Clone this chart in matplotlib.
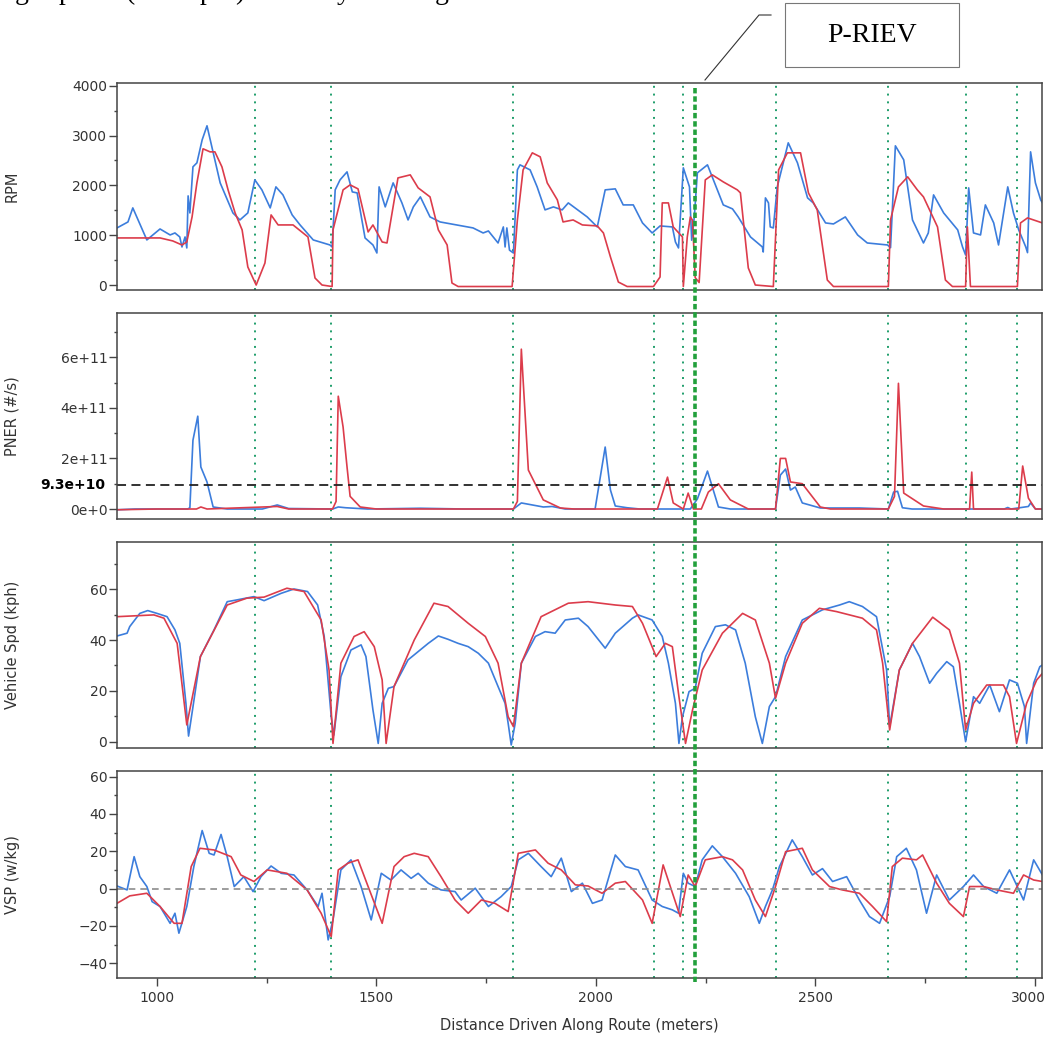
import numpy as np
import matplotlib
matplotlib.use("Agg")
import matplotlib.pyplot as plt
from matplotlib.ticker import MultipleLocator, FuncFormatter
from matplotlib.lines import Line2D
from matplotlib.patches import Rectangle
from matplotlib.transforms import ScaledTranslation

plt.rcParams['font.family'] = ['DejaVu Sans']

BLUE = '#3c7ddc'
RED = '#dc3c4b'
GREEN = '#1f9e6b'

# ---------------- data (distance in meters) ----------------
rpm_blue_x = [909, 934, 945, 977, 1007, 1030, 1041, 1052, 1057, 1064, 1068, 1071, 1075, 1082, 1091, 1103,
              1114, 1144, 1173, 1189, 1207, 1223, 1239, 1258, 1271, 1287, 1308, 1326, 1356, 1394, 1399, 1406,
              1417, 1433, 1445, 1456, 1474, 1492, 1501, 1506, 1520, 1538, 1558, 1572, 1584, 1600, 1622, 1645,
              1720, 1743, 1755, 1777, 1789, 1793, 1797, 1803, 1812, 1821, 1827, 1850, 1866, 1884, 1903, 1923,
              1937, 1980, 2003, 2021, 2044, 2062, 2085, 2106, 2128, 2146, 2174, 2181, 2188, 2199, 2213, 2218,
              2224, 2231, 2254, 2272, 2290, 2311, 2324, 2352, 2379, 2381, 2386, 2393, 2397, 2404, 2413, 2438,
              2459, 2482, 2495, 2523, 2541, 2568, 2596, 2618, 2664, 2671, 2682, 2701, 2721, 2746, 2757, 2769,
              2792, 2824, 2835, 2842, 2849, 2860, 2876, 2887, 2906, 2917, 2938, 2951, 2963, 2979, 2983, 2990,
              3001, 3013, 3017]
rpm_blue_y = [1146, 1266, 1548, 905, 1125, 1005, 1045, 965, 764, 965, 744, 1789, 1447, 2372, 2452, 2914,
              3196, 2050, 1447, 1306, 1447, 2110, 1910, 1548, 1970, 1809, 1407, 1206, 905, 804, 764, 1910,
              2110, 2271, 1869, 1849, 945, 804, 643, 1970, 1568, 2050, 1648, 1306, 1568, 1769, 1367, 1266,
              1146, 1045, 1085, 844, 1166, 764, 1146, 700, 643, 2311, 2412, 2311, 1970, 1508, 1568, 1508,
              1648, 1367, 1166, 1910, 1930, 1608, 1608, 1246, 1045, 1186, 1166, 864, 744, 2352, 1970, 900,
              1367, 2251, 2412, 2010, 1608, 1528, 1367, 965, 764, 663, 1749, 1648, 1166, 1146, 1970, 2854,
              2452, 1749, 1648, 1246, 1226, 1367, 1005, 844, 804, 750, 2794, 2513, 1306, 844, 1045, 1809,
              1447, 1106, 764, 603, 1950, 1045, 1005, 1608, 1246, 804, 1970, 1447, 1106, 764, 650, 2673,
              2050, 1709, 1650]

rpm_red_x = [909, 977, 1007, 1036, 1057, 1068, 1080, 1091, 1105, 1121, 1132, 1148, 1162, 1178, 1194, 1207,
             1226, 1246, 1260, 1276, 1310, 1344, 1360, 1376, 1399, 1401, 1424, 1440, 1458, 1481, 1492, 1513,
             1524, 1549, 1577, 1595, 1622, 1641, 1661, 1672, 1686, 1809, 1821, 1834, 1855, 1873, 1889, 1912,
             1925, 1948, 1969, 2003, 2017, 2033, 2051, 2071, 2131, 2146, 2151, 2165, 2176, 2197, 2199, 2208,
             2215, 2220, 2226, 2235, 2249, 2265, 2290, 2322, 2329, 2347, 2363, 2404, 2416, 2436, 2466, 2484,
             2504, 2527, 2541, 2666, 2671, 2689, 2710, 2732, 2746, 2778, 2796, 2812, 2842, 2846, 2853, 2960,
             2967, 2983, 3017]
rpm_red_y = [945, 945, 945, 885, 804, 864, 1367, 2050, 2734, 2673, 2673, 2372, 1910, 1447, 1106, 362,
             0, 442, 1407, 1206, 1206, 965, 141, 0, -30, 1106, 1910, 2010, 1930, 1065, 1206, 864,
             844, 2150, 2211, 1950, 1769, 1106, 804, 40, -30, -30, 1306, 2311, 2653, 2573, 2050, 1709,
             1266, 1306, 1206, 1186, 1045, 563, 60, -30, -30, 161, 1648, 1648, 1166, 965, -30, 965,
             1367, 1300, 150, 50, 2110, 2211, 2070, 1910, 1850, 342, 0, -30, 2311, 2653, 2653, 1849,
             1508, 100, -30, -30, 1306, 1970, 2171, 1910, 1769, 1166, 100, -30, -30, 1166, -30, -30,
             1246, 1347, 1246]

# particle number emission rate, in units of 1e11 #/s
pner_blue_x = [909, 950, 1070, 1075, 1082, 1093, 1100, 1114, 1128, 1160, 1240, 1274, 1300, 1400, 1413, 1430,
               1480, 1600, 1700, 1812, 1830, 1880, 1900, 1930, 1998, 2021, 2033, 2044, 2071, 2100, 2215, 2231,
               2254, 2279, 2306, 2409, 2420, 2432, 2443, 2454, 2470, 2511, 2600, 2666, 2678, 2687, 2698, 2720,
               2930, 2938, 2945, 2985, 2990, 3001, 3017]
pner_blue_y = [-0.03, 0, 0, 0.05, 2.72, 3.67, 1.66, 1.07, 0.08, 0.0, 0, 0.16, 0.02, 0, 0.08, 0.05,
               0, 0.03, 0, 0, 0.24, 0.08, 0.1, 0, 0, 2.45, 0.75, 0.12, 0.05, 0, 0, 0.4,
               1.5, 0.08, 0, 0, 1.34, 1.58, 0.75, 0.87, 0.24, 0.04, 0.04, 0, 0.67, 0.7, 0.05, 0,
               0, 0.06, 0, 0.1, 0.24, 0, 0]
pner_red_x = [909, 1000, 1090, 1100, 1114, 1274, 1300, 1400, 1408, 1413, 1424, 1433, 1440, 1463, 1500, 1812,
              1821, 1830, 1846, 1880, 1919, 1950, 2140, 2163, 2176, 2199, 2210, 2222, 2240, 2256, 2279, 2306,
              2347, 2409, 2420, 2432, 2443, 2470, 2511, 2534, 2666, 2680, 2689, 2701, 2746, 2792, 2851, 2856,
              2860, 2963, 2972, 2985, 3001, 3017]
pner_red_y = [-0.03, 0, 0, 0.08, 0, 0.1, 0, 0, 0.3, 4.46, 3.24, 1.66, 0.5, 0.08, 0, 0,
              0.3, 6.32, 1.54, 0.36, 0.04, 0, 0, 1.26, 0.24, 0, 0.63, 0, 0, 0.67, 1.0, 0.36,
              0, 0, 2.0, 2.0, 1.07, 1.0, 0.08, 0, 0, 0.5, 4.97, 0.63, 0.12, 0, 0, 1.46,
              0, 0, 1.7, 0.43, 0, 0]
pner_threshold = 9.3e10

spd_blue_x = [909, 932, 938, 961, 979, 1000, 1023, 1041, 1052, 1066, 1072, 1081, 1099, 1130, 1160, 1182,
              1221, 1244, 1283, 1312, 1343, 1366, 1381, 1397, 1403, 1419, 1442, 1465, 1476, 1492, 1504, 1513,
              1527, 1540, 1572, 1618, 1641, 1663, 1686, 1709, 1732, 1755, 1777, 1793, 1800, 1807, 1816, 1830,
              1862, 1884, 1907, 1930, 1960, 1982, 2021, 2044, 2083, 2096, 2128, 2151, 2165, 2181, 2189, 2197,
              2212, 2226, 2242, 2272, 2295, 2318, 2340, 2363, 2379, 2395, 2409, 2432, 2470, 2516, 2555, 2577,
              2607, 2639, 2662, 2669, 2691, 2721, 2737, 2760, 2776, 2799, 2814, 2828, 2842, 2860, 2874, 2897,
              2919, 2942, 2960, 2976, 2981, 2997, 3011, 3017]
spd_blue_y = [41.6, 42.7, 45.3, 50.5, 51.6, 50.5, 49.2, 44, 38.7, 15.1, 2.2, 12.5, 33.5, 44, 55.1, 55.8,
              57.1, 55.5, 58.4, 60.1, 59.1, 53.8, 41.4, 9.8, 2.6, 25.6, 36.1, 38.1, 33.5, 12.5, -0.7, 15.1,
              21, 21.7, 32.2, 38.7, 41.6, 40.3, 38.7, 37.4, 34.8, 30.9, 21.7, 15.1, 7.2, -1.3, 7.2, 30.9,
              41.4, 43.3, 42.7, 47.9, 48.6, 45.3, 36.8, 42.7, 48.6, 49.9, 47.9, 41.4, 30.9, 15.1, -0.7, 9.8,
              19.7, 21, 34.8, 45.3, 46, 44, 30.9, 9.8, -0.7, 13.8, 17.7, 33.5, 47.9, 51.9, 53.8, 55.1,
              53.2, 49.2, 28.2, 5.9, 28.2, 38.7, 33.5, 23, 26.9, 31.5, 29.5, 15.1, 0, 17.7, 15.1, 22.3,
              11.8, 24.3, 23, 13.8, -0.7, 23, 29.5, 30.2]
spd_red_x = [909, 993, 1016, 1046, 1068, 1099, 1160, 1205, 1244, 1296, 1335, 1374, 1392, 1401, 1419, 1449,
             1472, 1495, 1513, 1522, 1540, 1586, 1631, 1663, 1709, 1748, 1777, 1800, 1812, 1830, 1875, 1937,
             1982, 2044, 2083, 2106, 2137, 2158, 2174, 2189, 2204, 2220, 2242, 2288, 2334, 2363, 2395, 2409,
             2432, 2470, 2509, 2548, 2607, 2639, 2653, 2669, 2691, 2721, 2767, 2805, 2828, 2842, 2860, 2890,
             2928, 2942, 2958, 2981, 3004, 3017]
spd_red_y = [49.2, 49.9, 48.6, 38.7, 6.6, 33.5, 53.8, 56.5, 56.9, 60.4, 59.1, 47.9, 28.2, -0.7, 30.9, 41.4,
             43.3, 37.4, 24.3, -0.7, 21.7, 40, 54.5, 53.2, 46.6, 41.4, 30.9, 9.8, 5.9, 30.9, 49.2, 54.5,
             55.1, 53.8, 53.2, 46.6, 33.5, 38.7, 37.4, 17.7, -0.7, 12.5, 28.2, 42.7, 50.5, 47.9, 30.9, 17.1,
             30.9, 46.6, 52.5, 51.2, 48.6, 44, 30.9, 4.6, 28.2, 38.7, 49, 44, 30.9, 4.6, 15.1, 22.3,
             22.3, 17.7, -0.7, 15.1, 24.3, 26.9]

vsp_blue_x = [909, 932, 948, 961, 977, 989, 1007, 1030, 1041, 1050, 1068, 1084, 1103, 1119, 1130, 1146,
              1160, 1176, 1198, 1219, 1237, 1260, 1283, 1312, 1342, 1367, 1376, 1390, 1401, 1419, 1442, 1465,
              1488, 1511, 1533, 1556, 1579, 1595, 1618, 1647, 1679, 1693, 1725, 1755, 1784, 1807, 1823, 1846,
              1875, 1898, 1921, 1944, 1969, 1992, 2014, 2044, 2067, 2096, 2128, 2151, 2174, 2188, 2199, 2210,
              2226, 2242, 2265, 2288, 2318, 2349, 2372, 2386, 2402, 2418, 2447, 2470, 2493, 2516, 2539, 2571,
              2600, 2623, 2646, 2669, 2685, 2707, 2730, 2753, 2776, 2805, 2837, 2860, 2883, 2913, 2942, 2974,
              2997, 3017]
vsp_blue_y = [1.4, -0.7, 17.1, 6.4, 1.1, -7, -9.6, -18.6, -13.2, -23.9, -9.6, 11.8, 31.1, 18.9, 18, 29,
              17.1, 1.1, 6.4, -1.6, 6.4, 12.1, 8.2, 7.3, -0.7, -9.6, -2.5, -27.5, -16.8, 10, 15.4, 1.1,
              -16.8, 8.2, 4.6, 10, 5.5, 8.2, 2.9, -0.7, -1.6, -6.1, 0.2, -9.6, -4.3, 1.1, 15.4, 18.9,
              11.8, 6.4, 16.3, -1.6, 2.9, -7.9, -6.1, 18, 11.8, 10, -6.1, -9.6, -11.4, -13.2, 8.2, 2.9,
              1.1, 15.4, 22.9, 17.1, 8.2, -4.3, -18.6, -9.6, -0.7, 11.8, 26.1, 17.1, 7.3, 10.7, 3.8, 6.4,
              -6.1, -15, -18.6, -4.3, 17.1, 21.6, 10, -13.2, 7.3, -6.1, 1.1, 7.3, 1.1, -2.5, 10, -6.1,
              15.4, 7.3]
vsp_red_x = [909, 938, 977, 1007, 1039, 1057, 1078, 1098, 1130, 1169, 1191, 1221, 1251, 1296, 1342, 1374,
             1397, 1413, 1435, 1458, 1481, 1513, 1540, 1563, 1586, 1618, 1647, 1679, 1709, 1739, 1770, 1800,
             1823, 1862, 1891, 1921, 1953, 1982, 2014, 2044, 2067, 2106, 2128, 2153, 2192, 2210, 2226, 2249,
             2288, 2311, 2334, 2363, 2386, 2409, 2432, 2470, 2493, 2532, 2561, 2600, 2630, 2662, 2675, 2698,
             2730, 2744, 2776, 2805, 2837, 2851, 2883, 2913, 2951, 2974, 2997, 3017]
vsp_red_y = [-7.9, -3.9, -2.5, -9.6, -18.6, -18.6, 11.8, 21.6, 20.7, 17.1, 7.3, 3.8, 10, 8.2, -0.7, -13.2,
             -25.7, 10, 13.6, 15.4, 1.1, -18.6, 11.8, 17.1, 18.9, 17.1, 6.4, -6.1, -13.2, -6.1, -7.9, -12.3,
             18.9, 20.7, 13.6, 10, 2, 1.4, -2.5, 2.9, 3.8, -6.1, -18.6, 12.7, -15, 7.3, 1.1, 15.4,
             17.1, 15.4, 10, -6.1, -15, 1.1, 19.8, 21.6, 10, 1.1, -0.7, -2.5, -9.6, -17.7, 11.8, 16.3,
             15.4, 18, 2.9, -7.9, -15, 1.1, 1.1, -0.7, -2.5, 7.3, 4.6, 3.8]

event_x = [1223, 1397, 1811, 2133, 2199, 2409, 2666, 2842, 2960]
priev_x = 2226
x_ticks = [1000, 1500, 2000, 2500, 3000]

# ---------------- figure ----------------
fig = plt.figure(figsize=(10.48, 10.38), dpi=100)
W, H = 1048.0, 1038.0
left, right = 117 / W, 1042 / W
panels = [(83, 290), (313, 519), (542, 748), (771, 978)]
axes = []
for top, bot in panels:
    ax = fig.add_axes([left, 1 - bot / H, right - left, (bot - top) / H])
    axes.append(ax)

ax_rpm, ax_pn, ax_spd, ax_vsp = axes

ax_rpm.plot(rpm_blue_x, rpm_blue_y, color=BLUE, lw=1.2)
ax_rpm.plot(rpm_red_x, rpm_red_y, color=RED, lw=1.2)
ax_rpm.set_ylim(-100, 4055)
ax_rpm.yaxis.set_major_locator(MultipleLocator(1000))
ax_rpm.yaxis.set_minor_locator(MultipleLocator(500))
ax_rpm.set_ylabel('RPM')

ax_pn.plot(pner_blue_x, np.array(pner_blue_y) * 1e11, color=BLUE, lw=1.2)
ax_pn.plot(pner_red_x, np.array(pner_red_y) * 1e11, color=RED, lw=1.2)
ax_pn.axhline(pner_threshold, color='#222222', lw=1.3, ls=(0, (5, 3)))
ax_pn.set_ylim(-0.395e11, 7.75e11)
ax_pn.yaxis.set_major_locator(MultipleLocator(2e11))
ax_pn.yaxis.set_minor_locator(MultipleLocator(1e11))
ax_pn.yaxis.set_major_formatter(FuncFormatter(
    lambda v, p: '0e+0' if abs(v) < 1 else '%de+11' % round(v / 1e11)))
ax_pn.set_ylabel('PNER (#/s)')
ax_pn.text(-0.0125, pner_threshold, '9.3e+10', transform=ax_pn.get_yaxis_transform(),
           ha='right', va='center', fontsize=10, fontweight='bold', color='black')

ax_spd.plot(spd_blue_x, spd_blue_y, color=BLUE, lw=1.2)
ax_spd.plot(spd_red_x, spd_red_y, color=RED, lw=1.2)
ax_spd.set_ylim(-2.5, 78.6)
ax_spd.yaxis.set_major_locator(MultipleLocator(20))
ax_spd.yaxis.set_minor_locator(MultipleLocator(10))
ax_spd.set_ylabel('Vehicle Spd (kph)')

ax_vsp.plot(vsp_blue_x, vsp_blue_y, color=BLUE, lw=1.2)
ax_vsp.plot(vsp_red_x, vsp_red_y, color=RED, lw=1.2)
ax_vsp.axhline(0, color='#8c8c8c', lw=1.2, ls=(0, (4, 3)))
ax_vsp.set_ylim(-47.9, 63)
ax_vsp.yaxis.set_major_locator(MultipleLocator(20))
ax_vsp.yaxis.set_minor_locator(MultipleLocator(10))
ax_vsp.set_ylabel('VSP (w/kg)')
ax_vsp.set_xlabel('Distance Driven Along Route (meters)', fontsize=10.5, color='#333333', labelpad=10)
ax_vsp.set_xticks(x_ticks)
# last label is drawn separately, nudged left so it stays inside the figure
ax_vsp.set_xticklabels([str(v) for v in x_ticks[:-1]] + [''])
ax_vsp.xaxis.set_minor_locator(MultipleLocator(250))
ax_vsp.text(x_ticks[-1], 0, str(x_ticks[-1]), fontsize=10, color='#333333', ha='center', va='top',
            transform=ax_vsp.get_xaxis_transform() + ScaledTranslation(-7 / 100, -9 / 72, fig.dpi_scale_trans))

for ax in axes:
    ax.set_xlim(909, 3016)
    for xv in event_x:
        ax.axvline(xv, color=GREEN, lw=1.4, ls=(0, (1, 3)), zorder=1)
    for s in ax.spines.values():
        s.set_color('#444444')
        s.set_linewidth(1.1)
    ax.tick_params(axis='y', which='major', length=6, width=1, color='#444444',
                   labelsize=10, labelcolor='#333333', pad=1)
    ax.tick_params(axis='y', which='minor', length=2.5, width=1, color='#444444')
    ax.yaxis.label.set_color('#333333')
    ax.yaxis.label.set_fontsize(10.5)
    ax.yaxis.set_label_coords(-0.105, 0.5)
    if ax is not ax_vsp:
        ax.tick_params(axis='x', which='both', bottom=False, labelbottom=False)
ax_vsp.tick_params(axis='x', which='major', length=6, width=1, color='#444444',
                   labelsize=10, labelcolor='#333333', pad=3)
ax_vsp.tick_params(axis='x', which='minor', length=3.5, width=1, color='#444444')

# thick P-RIEV marker spanning all panels
fig.canvas.draw()
xd = ax_vsp.transData.transform((priev_x, 0))[0]
xf = fig.transFigure.inverted().transform((xd, 0))[0]
fig.add_artist(Line2D([xf, xf], [1 - 88 / H, 1 - 982 / H], transform=fig.transFigure,
                      color='#22a03c', lw=2.6, ls=(0, (1.5, 0.8)), zorder=5))

# callout
fig.add_artist(Line2D([705 / W, 759 / W, 771 / W], [1 - 80 / H, 1 - 15 / H, 1 - 15 / H],
                      transform=fig.transFigure, color='#333333', lw=0.8))
fig.add_artist(Rectangle((785 / W, 1 - 67 / H), 174 / W, 64 / H, transform=fig.transFigure,
                         facecolor='white', edgecolor='#777777', lw=0.8))
fig.text(872 / W, 1 - 36 / H, 'P-RIEV', ha='center', va='center', fontsize=20,
         family='Liberation Serif', color='black')

# clipped line of caption text above the figure (only descenders visible)
for ch, xp in [('g', 22), ('p', 66), ('(', 130), ('p', 207), (')', 240), ('y', 344), ('g', 442)]:
    fig.text(xp / W, 1 + 1 / H, ch, ha='center', va='baseline', fontsize=20,
             family='Liberation Serif', color='black')

fig.savefig('out.png', dpi=100)
